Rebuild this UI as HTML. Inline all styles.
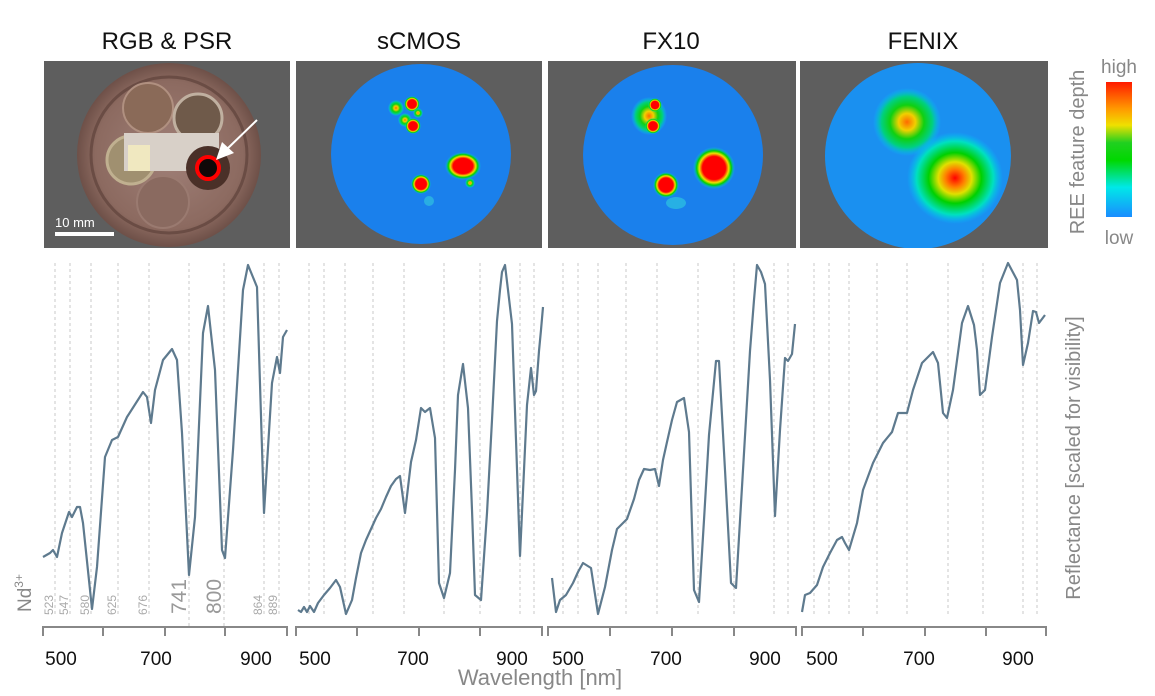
<!DOCTYPE html>
<html><head><meta charset="utf-8"><style>
html,body{margin:0;padding:0;background:#fff;}
svg{display:block;font-family:"Liberation Sans",Arial,sans-serif;}
</style></head><body>
<svg width="1155" height="696" viewBox="0 0 1155 696" xmlns="http://www.w3.org/2000/svg">
<defs>
<clipPath id="c1"><rect x="44" y="61" width="246" height="187"/></clipPath>
<clipPath id="c2"><rect x="296" y="61" width="246" height="187"/></clipPath>
<clipPath id="c3"><rect x="548" y="61" width="248" height="187"/></clipPath>
<clipPath id="c4"><rect x="800" y="61" width="248" height="187"/></clipPath>
<linearGradient id="cb" x1="0" y1="0" x2="0" y2="1">
<stop offset="0" stop-color="#ff1a00"/><stop offset="0.2" stop-color="#ff9a00"/><stop offset="0.32" stop-color="#f0e000"/><stop offset="0.45" stop-color="#20d020"/><stop offset="0.58" stop-color="#00d800"/><stop offset="0.78" stop-color="#00e8e8"/><stop offset="1" stop-color="#1a8cff"/>
</linearGradient>
<radialGradient id="hot" cx="0.5" cy="0.5" r="0.5">
<stop offset="0" stop-color="#ff0000"/><stop offset="0.55" stop-color="#ff0000"/><stop offset="0.7" stop-color="#f0e000"/><stop offset="0.82" stop-color="#00d000"/><stop offset="1" stop-color="#00d0ff" stop-opacity="0"/>
</radialGradient>
<radialGradient id="warm" cx="0.5" cy="0.5" r="0.5">
<stop offset="0" stop-color="#ff6a00"/><stop offset="0.25" stop-color="#f0d000"/><stop offset="0.5" stop-color="#10d010"/><stop offset="0.75" stop-color="#00d080"/><stop offset="1" stop-color="#00c8ff" stop-opacity="0"/>
</radialGradient>
<radialGradient id="big" cx="0.5" cy="0.5" r="0.5">
<stop offset="0" stop-color="#ff0000"/><stop offset="0.2" stop-color="#ff8000"/><stop offset="0.35" stop-color="#e0e000"/><stop offset="0.55" stop-color="#00d000"/><stop offset="0.8" stop-color="#00e0c0"/><stop offset="1" stop-color="#00c0ff" stop-opacity="0"/>
</radialGradient>
<radialGradient id="disk" cx="0.5" cy="0.5" r="0.5">
<stop offset="0" stop-color="#a08078"/><stop offset="0.8" stop-color="#8c6a60"/><stop offset="1" stop-color="#6e5048"/>
</radialGradient>
</defs>

<g font-size="24" fill="#111" text-anchor="middle">
<text x="167" y="49">RGB &amp; PSR</text>
<text x="419" y="49">sCMOS</text>
<text x="671" y="49">FX10</text>
<text x="923" y="49">FENIX</text>
</g>

<rect x="44" y="61" width="246" height="187" fill="#5e5e5e"/>
<rect x="296" y="61" width="246" height="187" fill="#5e5e5e"/>
<rect x="548" y="61" width="248" height="187" fill="#5e5e5e"/>
<rect x="800" y="61" width="248" height="187" fill="#5e5e5e"/>

<g clip-path="url(#c1)">
<circle cx="169" cy="155" r="92" fill="url(#disk)"/>
<circle cx="169" cy="155" r="78" fill="none" stroke="#6a4c44" stroke-width="3"/>
<circle cx="148" cy="108" r="25" fill="#8a6a58" stroke="#b09080" stroke-width="2"/>
<circle cx="198" cy="118" r="24" fill="#6f5a4a" stroke="#c0b0a0" stroke-width="3"/>
<circle cx="131" cy="160" r="24" fill="#a09070" stroke="#c0b090" stroke-width="3"/>
<circle cx="163" cy="202" r="26" fill="#8a6a60" stroke="#9a7a70" stroke-width="2"/>
<rect x="124" y="133" width="95" height="38" fill="#d8d0c8"/>
<rect x="128" y="145" width="22" height="26" fill="#f0e8c0"/>
<circle cx="208" cy="168" r="22" fill="#4a3028"/>
<circle cx="208" cy="168" r="11" fill="#100808" stroke="#ff0000" stroke-width="4"/>
<line x1="257" y1="120" x2="226" y2="150" stroke="#fff" stroke-width="2"/>
<polygon points="216,160 222,142 234,153" fill="#fff"/>
<text x="55" y="227" font-size="13" fill="#fff">10 mm</text>
<rect x="55" y="232" width="59" height="4" fill="#fff"/>
</g>

<g clip-path="url(#c2)">
<circle cx="421" cy="154" r="90" fill="#1a80ec"/>
<circle cx="396" cy="108" r="8" fill="url(#warm)"/>
<circle cx="412" cy="104" r="8" fill="url(#hot)"/>
<circle cx="405" cy="120" r="7" fill="url(#warm)"/>
<circle cx="413" cy="126" r="8" fill="url(#hot)"/>
<circle cx="418" cy="113" r="5" fill="url(#warm)"/>
<ellipse cx="463" cy="166" rx="18" ry="14" fill="url(#hot)"/>
<circle cx="421" cy="184" r="10" fill="url(#hot)"/>
<circle cx="470" cy="183" r="5" fill="url(#warm)"/>
<circle cx="429" cy="201" r="5" fill="#30c0e0" opacity="0.7"/>
</g>

<g clip-path="url(#c3)">
<circle cx="673" cy="155" r="90" fill="#1a80ec"/>
<ellipse cx="649" cy="116" rx="18" ry="19" fill="url(#warm)"/>
<circle cx="653" cy="126" r="8" fill="url(#hot)"/>
<circle cx="655" cy="105" r="7" fill="url(#hot)"/>
<circle cx="714" cy="168" r="21" fill="url(#hot)"/>
<circle cx="666" cy="185" r="13" fill="url(#hot)"/>
<ellipse cx="676" cy="203" rx="10" ry="6" fill="#30d0e0" opacity="0.6"/>
</g>

<g clip-path="url(#c4)">
<circle cx="918" cy="156" r="93" fill="#1a90f0"/>
<ellipse cx="907" cy="122" rx="34" ry="34" fill="url(#warm)"/>
<ellipse cx="955" cy="178" rx="48" ry="46" fill="url(#big)"/>
</g>

<rect x="1106" y="82" width="26" height="135" fill="url(#cb)"/>
<text x="1119" y="73" font-size="19" fill="#888" text-anchor="middle">high</text>
<text x="1119" y="244" font-size="19" fill="#888" text-anchor="middle">low</text>
<text transform="translate(1084,152) rotate(-90)" font-size="20" fill="#888" text-anchor="middle">REE feature depth</text>
<text transform="translate(1080,458) rotate(-90)" font-size="20" fill="#888" text-anchor="middle">Reflectance [scaled for visibility]</text>

<g stroke="#c8c8c8" stroke-width="1" stroke-dasharray="3,3">
<g transform="translate(44,0)"><path d="M11 263V617M26 263V617M47 263V617M74 263V617M105 263V617M145 263V627M180 263V627M220 263V617M235 263V617"/></g>
<g transform="translate(296,0)"><path d="M13 263V617M28 263V617M49 263V617M77 263V617M108 263V617M148 263V617M184 263V617M224 263V617M238 263V617"/></g>
<g transform="translate(548,0)"><path d="M15 263V617M30 263V617M50 263V617M78 263V617M109 263V617M150 263V617M186 263V617M226 263V617M240 263V617"/></g>
<g transform="translate(800,0)"><path d="M14 263V617M29 263V617M49 263V617M77 263V617M107 263V617M148 263V617M183 263V617M223 263V617M237 263V617"/></g>
</g>

<g font-size="12" fill="#aaa">
<text transform="translate(53,615) rotate(-90)">523</text>
<text transform="translate(68,615) rotate(-90)">547</text>
<text transform="translate(89,615) rotate(-90)">580</text>
<text transform="translate(116,615) rotate(-90)">625</text>
<text transform="translate(147,615) rotate(-90)">676</text>
<text transform="translate(262,615) rotate(-90)">864</text>
<text transform="translate(277,615) rotate(-90)">889</text>
</g>
<g font-size="21" fill="#999">
<text transform="translate(186,614) rotate(-90)">741</text>
<text transform="translate(221,614) rotate(-90)">800</text>
</g>
<text transform="translate(31,612) rotate(-90)" font-size="19" fill="#888">Nd<tspan font-size="12" dy="-8">3+</tspan></text>

<g fill="none" stroke="#5e7a8e" stroke-width="2.2" stroke-linejoin="round">
<polyline points="43,557 50,553 53,550 57,557 62,533 69,512 72,517 77,507 80,507 83,523 92,609 97,567 105,457 112,440 118,437 127,417 143,392 147,397 151,423 155,390 163,360 172,349 177,360 182,433 189,575 195,517 203,333 208,306 215,370 222,550 225,558 233,450 243,290 248,265 257,287 264,513 272,383 277,357 280,373 283,337 287,330"/>
<polyline points="298,610 301,612 304,607 307,612 310,606 314,612 318,603 324,595 330,588 336,580 340,587 346,614 352,600 356,578 361,553 366,540 371,529 376,518 381,509 386,497 391,486 396,479 400,476 405,513 411,462 416,440 421,408 425,412 430,408 435,438 439,583 444,598 450,573 455,470 458,395 463,364 468,408 472,510 475,595 481,600 487,513 492,420 497,321 500,290 502,272 505,265 508,290 512,324 516,440 520,556 524,470 527,405 531,368 534,395 536,391 539,351 541,330 543,307"/>
<polyline points="552,578 556,612 560,600 566,595 573,583 578,572 583,563 591,568 598,614 605,587 612,550 617,529 627,519 634,499 639,480 644,469 650,470 655,469 659,486 663,460 667,442 672,420 677,402 684,398 689,432 694,590 699,602 704,520 709,435 716,361 719,361 725,470 731,583 736,588 743,470 750,351 754,300 757,265 761,272 765,284 770,380 775,516 780,430 785,358 788,361 792,354 795,324"/>
<polyline points="802,612 805,595 810,593 817,585 823,567 830,553 837,540 842,537 845,543 849,550 857,523 863,490 873,463 883,443 892,432 898,413 907,413 913,390 922,363 933,352 938,363 943,413 947,418 953,390 962,323 968,306 974,325 977,350 980,395 985,390 992,337 1000,283 1008,263 1017,280 1020,310 1023,365 1028,343 1033,311 1036,312 1039,323 1045,315"/>
</g>

<g fill="none" stroke="#888" stroke-width="2">
<path d="M43 636V627H287V636M103 627V636M165 627V636M225 627V636"/>
<path d="M296 636V627H542V636M357 627V636M419 627V636M480 627V636"/>
<path d="M548 636V627H796V636M610 627V636M672 627V636M734 627V636"/>
<path d="M802 636V627H1046V636M863 627V636M925 627V636M986 627V636"/>
</g>
<g font-size="19" fill="#111" text-anchor="middle">
<text x="61" y="665">500</text><text x="156" y="665">700</text><text x="256" y="665">900</text>
<text x="315" y="665">500</text><text x="413" y="665">700</text><text x="512" y="665">900</text>
<text x="568" y="665">500</text><text x="666" y="665">700</text><text x="765" y="665">900</text>
<text x="822" y="665">500</text><text x="919" y="665">700</text><text x="1018" y="665">900</text>
</g>
<text x="540" y="685" font-size="22" fill="#888" text-anchor="middle">Wavelength [nm]</text>
</svg>
</body></html>
